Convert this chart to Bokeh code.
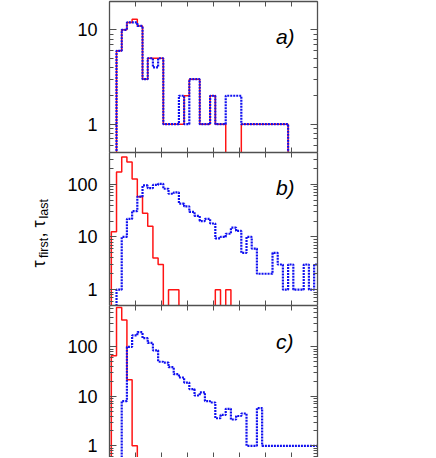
import numpy as np
from bokeh.plotting import figure
from bokeh.layouts import row, column
from bokeh.models import (Range1d, FixedTicker, LinearAxis, LogAxis,
                          PrintfTickFormatter, Label, ColumnDataSource)
from bokeh.core.properties import value
from bokeh.embed import file_html
from bokeh.resources import INLINE

# ---------------- data (histogram counts per bin) ----------------
bin_start = 0.07
bin_width = 0.2
bin_edges = [round(bin_start + bin_width * k, 2) for k in range(41)]

a_first = [0, 6, 10, 12, 13, 11, 3, 5, 5, 5,
           1, 1, 1, 1, 2, 3, 3, 1, 1, 2,
           1, 1, 0, 0, 0, 1, 1, 1, 1, 1,
           1, 1, 1, 1, 0, 0, 0, 0, 0, 0]
a_last = [0, 6, 10, 12, 12, 11, 3, 5, 4, 5,
          1, 1, 1, 2, 1, 3, 3, 1, 1, 2,
          1, 1, 2, 2, 2, 1, 1, 1, 1, 1,
          1, 1, 1, 1, 0, 0, 0, 0, 0, 0]

b_first = [12.5, 170, 330, 265, 125, 58, 28, 16, 4, 3,
           0, 1, 1, 0, 0, 0, 0, 0, 0, 0,
           1, 0, 1, 0, 0, 0, 0, 0, 0, 0,
           0, 0, 0, 0, 0, 0, 0, 0, 0, 0]
b_last = [0, 1, 10, 22, 31, 58, 95, 84, 97, 102,
          82, 66, 70, 43, 38, 30, 25, 20, 22, 18,
          9.4, 10, 11.5, 15, 13, 5, 10, 6, 2, 2,
          2, 5, 3, 1, 3, 1, 1, 3, 1, 3]

c_first = [66, 625, 350, 21.5, 1, 0, 0, 0, 0, 0,
           0, 0, 0, 0, 0, 0, 0, 0, 0, 0,
           0, 0, 0, 0, 0, 0, 0, 0, 0, 0,
           0, 0, 0, 0, 0, 0, 0, 0, 0, 0]
c_last = [0, 0, 8, 100, 170, 198, 150, 120, 85, 50,
          48, 39, 28, 24, 19, 14, 10.4, 12, 8, 7.5,
          3.6, 4.2, 5.6, 3.4, 4, 4.5, 1, 1, 5.8, 1,
          1, 1, 1, 1, 1, 1, 1, 1, 1, 1]

x_ticks = [0, 1, 2, 3, 4, 5, 6, 7, 8]
y_ticks = [1, 10, 100]
y_minor = [0.5, 0.6, 0.7, 0.8, 0.9, 2, 3, 4, 5, 6, 7, 8, 9,
           20, 30, 40, 50, 60, 70, 80, 90, 200, 300, 400, 500, 600, 700, 800, 900]

panel_letters = ["a)", "b)", "c)"]

# ---------------- styling ----------------
FONT = "Liberation Sans"
BORDER = "#505050"
RED = "#ff1414"
BLUE = "#1010f0"
FLOOR = 1e-3


def step_path(counts):
    xs, ys = [], []
    prev = FLOOR
    for k, c in enumerate(counts):
        v = c if c > 0 else FLOOR
        xs += [bin_edges[k], bin_edges[k]]
        ys += [prev, v]
        prev = v
    xs += [bin_edges[len(counts)], bin_edges[len(counts)]]
    ys += [prev, FLOOR]
    return xs, ys


def style_axis(ax, is_x, show_labels=False, line=True):
    ax.axis_line_color = BORDER if line else None
    ax.axis_line_width = 1.3
    ax.major_tick_out = 0
    ax.minor_tick_out = 0
    ax.major_tick_in = 5 if is_x else 7
    ax.minor_tick_in = 0 if is_x else 4
    ax.major_tick_line_color = BORDER
    ax.minor_tick_line_color = BORDER
    if show_labels:
        ax.major_label_text_font = FONT
        ax.major_label_text_font_size = "18px"
        ax.major_label_text_color = "black"
        ax.major_label_standoff = 12
    else:
        ax.major_label_text_font_size = "1px"
        ax.major_label_text_color = None
        ax.major_label_text_alpha = 0
        ax.major_label_standoff = 0


def make_panel(first, last, y_lo, y_hi, frame_h, top_pad, letter, lx, ly, bottom_line=True):
    p = figure(frame_width=208, frame_height=frame_h,
               x_range=Range1d(0, 8), y_range=Range1d(y_lo, y_hi),
               y_axis_type="log", output_backend="svg", toolbar_location=None,
               min_border_left=56, min_border_right=3,
               min_border_top=top_pad, min_border_bottom=0)
    p.grid.visible = False
    p.outline_line_color = None
    p.background_fill_color = "white"
    p.border_fill_color = "white"

    p.xaxis.ticker = FixedTicker(ticks=x_ticks)
    style_axis(p.xaxis[0], True, False, bottom_line)
    p.yaxis.ticker = FixedTicker(ticks=y_ticks, minor_ticks=y_minor)
    p.yaxis.formatter = PrintfTickFormatter(format="%d")
    style_axis(p.yaxis[0], False, True)

    top = LinearAxis(ticker=FixedTicker(ticks=x_ticks))
    style_axis(top, True, False)
    p.add_layout(top, "above")
    right = LogAxis(ticker=FixedTicker(ticks=y_ticks, minor_ticks=y_minor))
    style_axis(right, False, False)
    p.add_layout(right, "right")

    xs, ys = step_path(first)
    p.line(xs, ys, line_color=RED, line_width=1.5)
    xs, ys = step_path(last)
    p.line(xs, ys, line_color=BLUE, line_width=2.2, line_dash="2 1")

    p.add_layout(Label(x=lx, y=ly, text=letter, text_font=FONT,
                       text_font_style="italic", text_font_size="21px",
                       text_color="black", text_baseline="alphabetic"))
    return p


pa = make_panel(a_first, a_last, 0.5, 20, 151, 1, panel_letters[0], 6.4, 8.6)
pb = make_panel(b_first, b_last, 0.5, 400, 153, 0, panel_letters[1], 6.4, 88)
pc = make_panel(c_first, c_last, 0.58, 685, 152, 0, panel_letters[2], 6.4, 130,
                bottom_line=False)

# ---------------- y-axis title: tau_first, tau_last ----------------
H = 457
lab = figure(width=53, height=H, x_range=Range1d(0, 53), y_range=Range1d(0, H),
             x_axis_type=None, y_axis_type=None, output_backend="svg",
             toolbar_location=None, min_border=0)
lab.grid.visible = False
lab.outline_line_color = None
page_y = [267, 257.5, 237, 227, 218]
src = ColumnDataSource(dict(
    x=[38, 43.5, 38, 38, 43.5],
    y=[H - v for v in page_y],
    text=["τ", "first", ",", "τ", "last"],
    size=["18px", "12.5px", "18px", "18px", "12.5px"],
))
lab.text(x="x", y="y", text="text", source=src, angle=np.pi / 2,
         text_font=value(FONT), text_font_size="size", text_color="black",
         text_align="left", text_baseline="alphabetic")

layout = row(lab, column(pa, pb, pc, spacing=0), spacing=0)
open("out.html", "w").write(file_html(layout, INLINE))
